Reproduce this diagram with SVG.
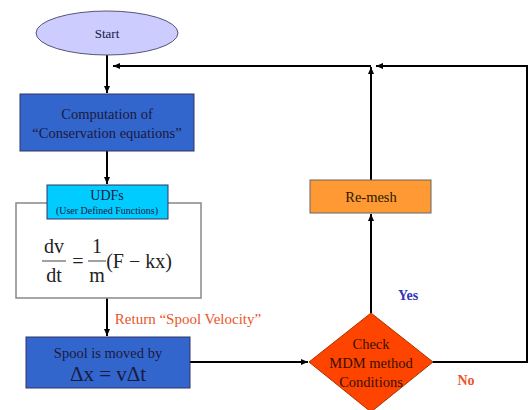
<svg xmlns="http://www.w3.org/2000/svg" width="528" height="410" viewBox="0 0 528 410">
<defs>
<marker id="ah" markerWidth="8" markerHeight="8" refX="7" refY="4" orient="auto" markerUnits="userSpaceOnUse">
<path d="M0,1 L7,4 L0,7 z" fill="#000"/>
</marker>
<style>
text{font-family:'Liberation Serif','DejaVu Serif',serif;text-anchor:middle;fill:#1a1a40}
.c{stroke:#000;stroke-width:2;fill:none}
.lbl{font-weight:bold}
</style>
</defs>
<rect width="528" height="410" fill="#fff"/>
<g id="connectors">
<line class="c" x1="107" y1="55" x2="107" y2="93" marker-end="url(#ah)"/>
<line class="c" x1="371" y1="66" x2="113" y2="66" marker-end="url(#ah)"/>
<polyline class="c" points="433,362 527,362 527,66 376,66" marker-end="url(#ah)"/>
<line class="c" x1="107" y1="151" x2="107" y2="184" marker-end="url(#ah)"/>
<line class="c" x1="107" y1="298" x2="107" y2="336" marker-end="url(#ah)"/>
<line class="c" x1="190" y1="362" x2="308" y2="362" marker-end="url(#ah)"/>
<line class="c" x1="371" y1="313" x2="371" y2="214" marker-end="url(#ah)"/>
<line class="c" x1="371" y1="180" x2="371" y2="67" marker-end="url(#ah)"/>
<text x="188" y="324" style="fill:#e8562a;font-size:15px">Return “Spool Velocity”</text>
<text x="408" y="300" class="lbl" style="fill:#3333bb;font-size:14px">Yes</text>
<text x="466" y="385" class="lbl" style="fill:#e8562a;font-size:14px">No</text>
</g>
<g id="start">
<ellipse cx="107" cy="33" rx="71" ry="22" fill="#ccccff" stroke="#555577" stroke-width="1"/>
<text x="107" y="38" style="font-size:13px">Start</text>
</g>
<g id="computation">
<rect x="20" y="94" width="174" height="57" fill="#3366cc" stroke="#333366" stroke-width="1"/>
<text x="107" y="119" style="font-size:14.5px">Computation of</text>
<text x="107" y="138" style="font-size:14.5px">“Conservation equations”</text>
</g>
<g id="equation">
<rect x="16" y="203" width="185" height="95" fill="#fff" stroke="#888" stroke-width="1.5"/>
<text x="54" y="253" style="font-size:20px;fill:#222">dv</text>
<line x1="42" y1="261" x2="66" y2="261" stroke="#444" stroke-width="1"/>
<text x="54" y="282" style="font-size:20px;fill:#222">dt</text>
<text x="78" y="268" style="font-size:20px;fill:#222">=</text>
<text x="97" y="253" style="font-size:20px;fill:#222">1</text>
<line x1="88" y1="261" x2="106" y2="261" stroke="#444" stroke-width="1"/>
<text x="97" y="282" style="font-size:20px;fill:#222">m</text>
<text x="139" y="268" style="font-size:20px;fill:#222">(F − kx)</text>
</g>
<g id="udfs">
<rect x="47" y="185" width="121" height="34" fill="#00ccff" stroke="#336" stroke-width="1"/>
<text x="107" y="200" style="font-size:14px">UDFs</text>
<text x="107" y="214" style="font-size:10px">(User Defined Functions)</text>
</g>
<g id="spool">
<rect x="26" y="337" width="164" height="51" fill="#3366cc" stroke="#333366" stroke-width="1"/>
<text x="108" y="358" style="font-size:14.5px">Spool is moved by</text>
<text x="108" y="381" style="font-size:21px">Δx = vΔt</text>
</g>
<g id="check">
<polygon points="371,313 433,362 371,412 309,362" fill="#ff4400" stroke="#aa3300" stroke-width="1"/>
<text x="371" y="349" style="font-size:14.5px;fill:#3a1000">Check</text>
<text x="371" y="368" style="font-size:14.5px;fill:#3a1000">MDM method</text>
<text x="371" y="387" style="font-size:14.5px;fill:#3a1000">Conditions</text>
</g>
<g id="remesh">
<rect x="310" y="180" width="121" height="33" fill="#ff9933" stroke="#666" stroke-width="1"/>
<text x="371" y="202" style="font-size:14.5px;fill:#2a1a00">Re-mesh</text>
</g>
</svg>
